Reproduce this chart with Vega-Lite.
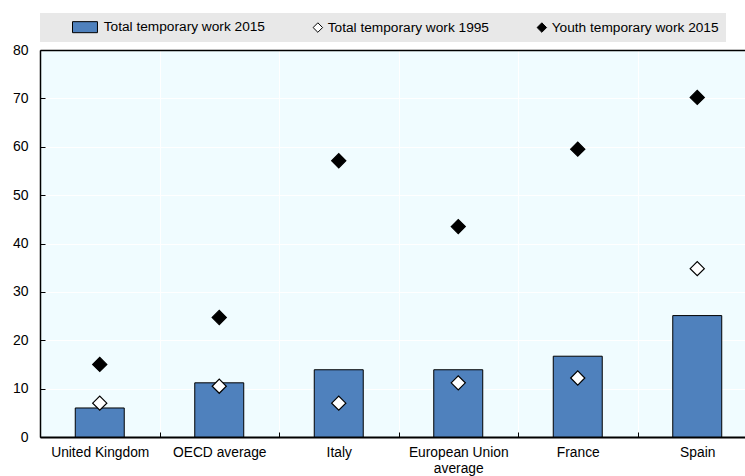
{
  "$schema": "https://vega.github.io/schema/vega-lite/v6.json",
  "width": 705,
  "height": 387,
  "autosize": {"type": "none"},
  "padding": {"left": 40, "top": 50, "right": 0, "bottom": 39},
  "background": "white",
  "config": {
    "font": "Liberation Sans",
    "view": {"fill": "#f0fcff", "stroke": null},
    "axis": {"labelFont": "Liberation Sans", "labelColor": "black"},
    "legend": {
      "direction": "horizontal",
      "columns": 3,
      "gridAlign": "all",
      "columnPadding": 40,
      "padding": 7,
      "fillColor": "#e8e8e8",
      "symbolSize": 90,
      "symbolStrokeColor": "black",
      "symbolStrokeWidth": 1,
      "labelFont": "Liberation Sans",
      "labelFontSize": 13.7,
      "labelColor": "black",
      "labelLimit": 400,
      "labelOffset": 3,
      "titleOrient": "left",
      "titlePadding": 40,
      "titleFontSize": 14
    }
  },
  "data": {
    "values": [
      {"country": "United Kingdom", "series": "Total temporary work 2015", "value": 6.0},
      {"country": "United Kingdom", "series": "Total temporary work 1995", "value": 7.0},
      {"country": "United Kingdom", "series": "Youth temporary work 2015", "value": 15.0},
      {"country": "OECD average", "series": "Total temporary work 2015", "value": 11.2},
      {"country": "OECD average", "series": "Total temporary work 1995", "value": 10.5},
      {"country": "OECD average", "series": "Youth temporary work 2015", "value": 24.7},
      {"country": "Italy", "series": "Total temporary work 2015", "value": 13.9},
      {"country": "Italy", "series": "Total temporary work 1995", "value": 7.0},
      {"country": "Italy", "series": "Youth temporary work 2015", "value": 57.1},
      {"country": "European Union average", "series": "Total temporary work 2015", "value": 13.9},
      {"country": "European Union average", "series": "Total temporary work 1995", "value": 11.2},
      {"country": "European Union average", "series": "Youth temporary work 2015", "value": 43.5},
      {"country": "France", "series": "Total temporary work 2015", "value": 16.7},
      {"country": "France", "series": "Total temporary work 1995", "value": 12.2},
      {"country": "France", "series": "Youth temporary work 2015", "value": 59.5},
      {"country": "Spain", "series": "Total temporary work 2015", "value": 25.1},
      {"country": "Spain", "series": "Total temporary work 1995", "value": 34.8},
      {"country": "Spain", "series": "Youth temporary work 2015", "value": 70.2}
    ]
  },
  "resolve": {"axis": {"x": "independent"}},
  "layer": [
    {
      "transform": [{"filter": "datum.series == 'Total temporary work 2015'"}],
      "mark": {"type": "bar", "width": {"band": 0.41}, "stroke": "black", "strokeWidth": 1},
      "encoding": {
        "x": {
          "field": "country",
          "type": "nominal",
          "sort": ["United Kingdom", "OECD average", "Italy", "European Union average", "France", "Spain"],
          "scale": {"paddingInner": 0, "paddingOuter": 0, "range": [0, 717]},
          "axis": {
            "title": null,
            "tickBand": "extent",
            "grid": true,
            "gridColor": "white",
            "gridWidth": 1,
            "domainColor": "black",
            "domainWidth": 2,
            "tickColor": "black",
            "tickSize": -5,
            "labelPadding": 13,
            "labelAngle": 0,
            "labelFontSize": 13.8,
            "labelLineHeight": 16,
            "labelExpr": "datum.value == 'European Union average' ? ['European Union', 'average'] : datum.value"
          }
        },
        "y": {
          "field": "value",
          "type": "quantitative",
          "scale": {"domain": [0, 80], "nice": false},
          "axis": {
            "title": null,
            "values": [0, 10, 20, 30, 40, 50, 60, 70, 80],
            "grid": true,
            "gridColor": "white",
            "gridWidth": 1,
            "domainColor": "black",
            "domainWidth": 1.5,
            "tickColor": "black",
            "tickSize": -5,
            "labelPadding": 17,
            "labelFontSize": 14
          }
        },
        "fill": {
          "field": "series",
          "type": "nominal",
          "scale": {
            "domain": ["Total temporary work 2015", "Total temporary work 1995", "Youth temporary work 2015"],
            "range": ["#4f81bd", "white", "black"]
          },
          "legend": {"title": " ", "orient": "none", "legendX": 0, "legendY": -37}
        }
      }
    },
    {
      "transform": [{"filter": "datum.series != 'Total temporary work 2015'"}],
      "mark": {"type": "point", "filled": true, "stroke": "black", "strokeWidth": 1.2, "size": 200, "opacity": 1},
      "encoding": {
        "x": {
          "field": "country",
          "type": "nominal",
          "sort": ["United Kingdom", "OECD average", "Italy", "European Union average", "France", "Spain"],
          "axis": {"orient": "top", "title": null, "labels": false, "ticks": false, "grid": false, "domain": true, "domainColor": "black", "domainWidth": 1.5}
        },
        "y": {"field": "value", "type": "quantitative"},
        "fill": {
          "field": "series",
          "type": "nominal",
          "legend": {"title": " ", "orient": "none", "legendX": 0, "legendY": -37}
        },
        "shape": {
          "field": "series",
          "type": "nominal",
          "scale": {
            "domain": ["Total temporary work 2015", "Total temporary work 1995", "Youth temporary work 2015"],
            "range": ["M-4.5,-1.16H0.76V1.16H-4.5Z", "diamond", "diamond"]
          },
          "legend": {"title": " ", "orient": "none", "legendX": 0, "legendY": -37}
        }
      }
    }
  ]
}
